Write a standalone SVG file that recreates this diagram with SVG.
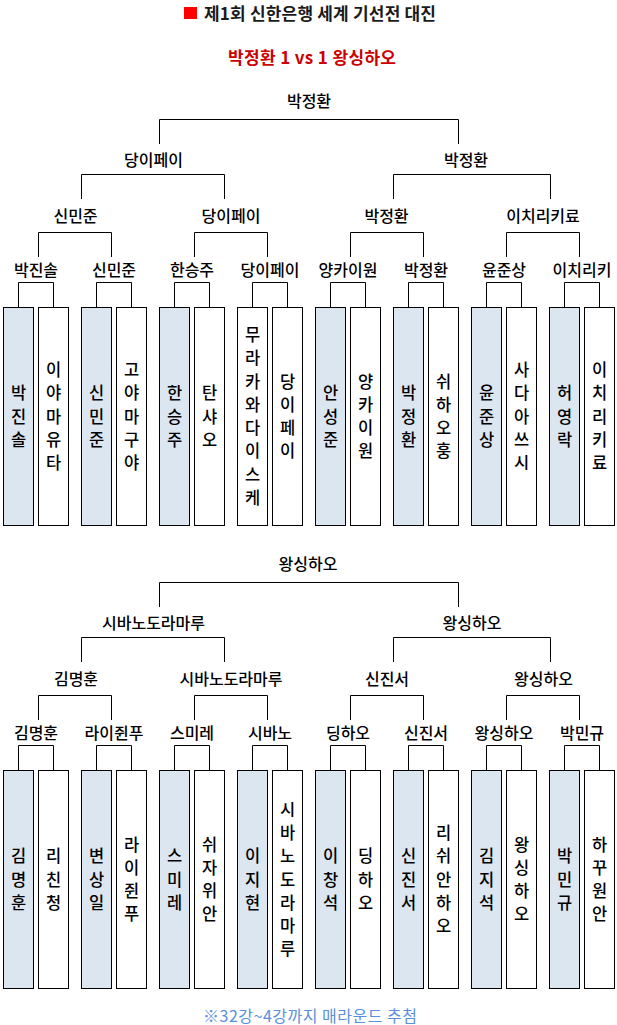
<svg xmlns="http://www.w3.org/2000/svg" width="617" height="1025" viewBox="0 0 617 1025">
<style>
text{font-family:'Noto Sans CJK KR','Noto Sans',sans-serif;}
.title{font-size:17px;font-weight:bold;fill:#1a1a1a;}
.score{font-size:17px;font-weight:bold;fill:#cc0000;text-anchor:middle;}
.lbl{font-size:16px;font-weight:500;fill:#000;text-anchor:middle;}
.nm{font-size:16.5px;font-weight:500;fill:#000;text-anchor:middle;}
.box{fill:#fff;stroke:#000;stroke-width:1;}
.win{fill:#dce6f1;}
.conn path{fill:none;stroke:#000;stroke-width:1;}
.note{font-size:16px;fill:#5a8fdc;text-anchor:middle;}
</style>
<rect width="617" height="1025" fill="#fff"/>
<g id="title">
<rect x="184" y="7" width="13" height="12" fill="#ff0000"/>
<text class="title" x="204" y="20" textLength="232">제1회 신한은행 세계 기선전 대진</text>
</g>
<g id="score"><text class="score" x="312" y="64" textLength="168">박정환 1 vs 1 왕싱하오</text></g>

<g class="conn" id="connectors">
<path d="M159.5 144V119.5H458.5V144"/>
<path d="M81.5 199V174.5H224.5V199"/>
<path d="M393.5 199V174.5H550.5V199"/>
<path d="M38.5 257V232.5H111.5V257"/>
<path d="M194.5 257V232.5H267.5V257"/>
<path d="M350.5 257V232.5H423.5V257"/>
<path d="M506.5 257V232.5H579.5V257"/>
<path d="M18.5 307.5V282.5H53.5V307.5"/>
<path d="M96.5 307.5V282.5H131.5V307.5"/>
<path d="M174.5 307.5V282.5H209.5V307.5"/>
<path d="M252.5 307.5V282.5H287.5V307.5"/>
<path d="M330.5 307.5V282.5H365.5V307.5"/>
<path d="M408.5 307.5V282.5H443.5V307.5"/>
<path d="M486.5 307.5V282.5H521.5V307.5"/>
<path d="M564.5 307.5V282.5H599.5V307.5"/>
<path d="M159.5 607V582.5H458.5V607"/>
<path d="M81.5 662V637.5H224.5V662"/>
<path d="M393.5 662V637.5H550.5V662"/>
<path d="M38.5 720V695.5H111.5V720"/>
<path d="M194.5 720V695.5H267.5V720"/>
<path d="M350.5 720V695.5H423.5V720"/>
<path d="M506.5 720V695.5H579.5V720"/>
<path d="M18.5 770.5V745.5H53.5V770.5"/>
<path d="M96.5 770.5V745.5H131.5V770.5"/>
<path d="M174.5 770.5V745.5H209.5V770.5"/>
<path d="M252.5 770.5V745.5H287.5V770.5"/>
<path d="M330.5 770.5V745.5H365.5V770.5"/>
<path d="M408.5 770.5V745.5H443.5V770.5"/>
<path d="M486.5 770.5V745.5H521.5V770.5"/>
<path d="M564.5 770.5V745.5H599.5V770.5"/>
</g>

<!-- upper bracket labels -->
<g id="u-final"><text class="lbl" x="309" y="107">박정환</text></g>
<g id="u-sf1"><text class="lbl" x="153.5" y="166">당이페이</text></g>
<g id="u-sf2"><text class="lbl" x="466" y="166">박정환</text></g>
<g id="u-qf1"><text class="lbl" x="75.5" y="222">신민준</text></g>
<g id="u-qf2"><text class="lbl" x="231" y="222">당이페이</text></g>
<g id="u-qf3"><text class="lbl" x="386.5" y="222">박정환</text></g>
<g id="u-qf4"><text class="lbl" x="543" y="222">이치리키료</text></g>
<g id="u-r1"><text class="lbl" x="36" y="276">박진솔</text></g>
<g id="u-r2"><text class="lbl" x="114" y="276">신민준</text></g>
<g id="u-r3"><text class="lbl" x="192" y="276">한승주</text></g>
<g id="u-r4"><text class="lbl" x="270" y="276">당이페이</text></g>
<g id="u-r5"><text class="lbl" x="348" y="276">양카이원</text></g>
<g id="u-r6"><text class="lbl" x="426" y="276">박정환</text></g>
<g id="u-r7"><text class="lbl" x="504" y="276">윤준상</text></g>
<g id="u-r8"><text class="lbl" x="582" y="276">이치리키</text></g>

<!-- upper player boxes -->
<g id="u-p1"><rect class="box win" x="3.5" y="307.5" width="30" height="218"/><text class="nm"><tspan x="18.5" y="399.2">박</tspan><tspan x="18.5" y="422.5">진</tspan><tspan x="18.5" y="445.8">솔</tspan></text></g>
<g id="u-p2"><rect class="box" x="38.5" y="307.5" width="30" height="218"/><text class="nm"><tspan x="53.5" y="375.9">이</tspan><tspan x="53.5" y="399.2">야</tspan><tspan x="53.5" y="422.5">마</tspan><tspan x="53.5" y="445.8">유</tspan><tspan x="53.5" y="469.1">타</tspan></text></g>
<g id="u-p3"><rect class="box win" x="81.5" y="307.5" width="30" height="218"/><text class="nm"><tspan x="96.5" y="399.2">신</tspan><tspan x="96.5" y="422.5">민</tspan><tspan x="96.5" y="445.8">준</tspan></text></g>
<g id="u-p4"><rect class="box" x="116.5" y="307.5" width="30" height="218"/><text class="nm"><tspan x="131.5" y="375.9">고</tspan><tspan x="131.5" y="399.2">야</tspan><tspan x="131.5" y="422.5">마</tspan><tspan x="131.5" y="445.8">구</tspan><tspan x="131.5" y="469.1">야</tspan></text></g>
<g id="u-p5"><rect class="box win" x="159.5" y="307.5" width="30" height="218"/><text class="nm"><tspan x="174.5" y="399.2">한</tspan><tspan x="174.5" y="422.5">승</tspan><tspan x="174.5" y="445.8">주</tspan></text></g>
<g id="u-p6"><rect class="box" x="194.5" y="307.5" width="30" height="218"/><text class="nm"><tspan x="209.5" y="399.2">탄</tspan><tspan x="209.5" y="422.5">샤</tspan><tspan x="209.5" y="445.8">오</tspan></text></g>
<g id="u-p7"><rect class="box" x="237.5" y="307.5" width="30" height="218"/><text class="nm"><tspan x="252.5" y="340.95">무</tspan><tspan x="252.5" y="364.25">라</tspan><tspan x="252.5" y="387.55">카</tspan><tspan x="252.5" y="410.85">와</tspan><tspan x="252.5" y="434.15">다</tspan><tspan x="252.5" y="457.45">이</tspan><tspan x="252.5" y="480.75">스</tspan><tspan x="252.5" y="504.05">케</tspan></text></g>
<g id="u-p8"><rect class="box" x="272.5" y="307.5" width="30" height="218"/><text class="nm"><tspan x="287.5" y="387.55">당</tspan><tspan x="287.5" y="410.85">이</tspan><tspan x="287.5" y="434.15">페</tspan><tspan x="287.5" y="457.45">이</tspan></text></g>
<g id="u-p9"><rect class="box win" x="315.5" y="307.5" width="30" height="218"/><text class="nm"><tspan x="330.5" y="399.2">안</tspan><tspan x="330.5" y="422.5">성</tspan><tspan x="330.5" y="445.8">준</tspan></text></g>
<g id="u-p10"><rect class="box" x="350.5" y="307.5" width="30" height="218"/><text class="nm"><tspan x="365.5" y="387.55">양</tspan><tspan x="365.5" y="410.85">카</tspan><tspan x="365.5" y="434.15">이</tspan><tspan x="365.5" y="457.45">원</tspan></text></g>
<g id="u-p11"><rect class="box win" x="393.5" y="307.5" width="30" height="218"/><text class="nm"><tspan x="408.5" y="399.2">박</tspan><tspan x="408.5" y="422.5">정</tspan><tspan x="408.5" y="445.8">환</tspan></text></g>
<g id="u-p12"><rect class="box" x="428.5" y="307.5" width="30" height="218"/><text class="nm"><tspan x="443.5" y="387.55">쉬</tspan><tspan x="443.5" y="410.85">하</tspan><tspan x="443.5" y="434.15">오</tspan><tspan x="443.5" y="457.45">훙</tspan></text></g>
<g id="u-p13"><rect class="box win" x="471.5" y="307.5" width="30" height="218"/><text class="nm"><tspan x="486.5" y="399.2">윤</tspan><tspan x="486.5" y="422.5">준</tspan><tspan x="486.5" y="445.8">상</tspan></text></g>
<g id="u-p14"><rect class="box" x="506.5" y="307.5" width="30" height="218"/><text class="nm"><tspan x="521.5" y="375.9">사</tspan><tspan x="521.5" y="399.2">다</tspan><tspan x="521.5" y="422.5">아</tspan><tspan x="521.5" y="445.8">쓰</tspan><tspan x="521.5" y="469.1">시</tspan></text></g>
<g id="u-p15"><rect class="box win" x="549.5" y="307.5" width="30" height="218"/><text class="nm"><tspan x="564.5" y="399.2">허</tspan><tspan x="564.5" y="422.5">영</tspan><tspan x="564.5" y="445.8">락</tspan></text></g>
<g id="u-p16"><rect class="box" x="584.5" y="307.5" width="30" height="218"/><text class="nm"><tspan x="599.5" y="375.9">이</tspan><tspan x="599.5" y="399.2">치</tspan><tspan x="599.5" y="422.5">리</tspan><tspan x="599.5" y="445.8">키</tspan><tspan x="599.5" y="469.1">료</tspan></text></g>

<!-- lower bracket labels -->
<g id="l-final"><text class="lbl" x="308" y="570">왕싱하오</text></g>
<g id="l-sf1"><text class="lbl" x="153.5" y="629">시바노도라마루</text></g>
<g id="l-sf2"><text class="lbl" x="472" y="629">왕싱하오</text></g>
<g id="l-qf1"><text class="lbl" x="76" y="685">김명훈</text></g>
<g id="l-qf2"><text class="lbl" x="231" y="685">시바노도라마루</text></g>
<g id="l-qf3"><text class="lbl" x="387" y="685">신진서</text></g>
<g id="l-qf4"><text class="lbl" x="543.5" y="685">왕싱하오</text></g>
<g id="l-r1"><text class="lbl" x="36" y="739">김명훈</text></g>
<g id="l-r2"><text class="lbl" x="114" y="739">라이쥔푸</text></g>
<g id="l-r3"><text class="lbl" x="192" y="739">스미레</text></g>
<g id="l-r4"><text class="lbl" x="270" y="739">시바노</text></g>
<g id="l-r5"><text class="lbl" x="348" y="739">딩하오</text></g>
<g id="l-r6"><text class="lbl" x="426" y="739">신진서</text></g>
<g id="l-r7"><text class="lbl" x="504" y="739">왕싱하오</text></g>
<g id="l-r8"><text class="lbl" x="582" y="739">박민규</text></g>

<!-- lower player boxes -->
<g id="l-p1"><rect class="box win" x="3.5" y="770.5" width="30" height="218"/><text class="nm"><tspan x="18.5" y="862.2">김</tspan><tspan x="18.5" y="885.5">명</tspan><tspan x="18.5" y="908.8">훈</tspan></text></g>
<g id="l-p2"><rect class="box" x="38.5" y="770.5" width="30" height="218"/><text class="nm"><tspan x="53.5" y="862.2">리</tspan><tspan x="53.5" y="885.5">친</tspan><tspan x="53.5" y="908.8">청</tspan></text></g>
<g id="l-p3"><rect class="box win" x="81.5" y="770.5" width="30" height="218"/><text class="nm"><tspan x="96.5" y="862.2">변</tspan><tspan x="96.5" y="885.5">상</tspan><tspan x="96.5" y="908.8">일</tspan></text></g>
<g id="l-p4"><rect class="box" x="116.5" y="770.5" width="30" height="218"/><text class="nm"><tspan x="131.5" y="850.55">라</tspan><tspan x="131.5" y="873.85">이</tspan><tspan x="131.5" y="897.15">쥔</tspan><tspan x="131.5" y="920.45">푸</tspan></text></g>
<g id="l-p5"><rect class="box win" x="159.5" y="770.5" width="30" height="218"/><text class="nm"><tspan x="174.5" y="862.2">스</tspan><tspan x="174.5" y="885.5">미</tspan><tspan x="174.5" y="908.8">레</tspan></text></g>
<g id="l-p6"><rect class="box" x="194.5" y="770.5" width="30" height="218"/><text class="nm"><tspan x="209.5" y="850.55">쉬</tspan><tspan x="209.5" y="873.85">자</tspan><tspan x="209.5" y="897.15">위</tspan><tspan x="209.5" y="920.45">안</tspan></text></g>
<g id="l-p7"><rect class="box win" x="237.5" y="770.5" width="30" height="218"/><text class="nm"><tspan x="252.5" y="862.2">이</tspan><tspan x="252.5" y="885.5">지</tspan><tspan x="252.5" y="908.8">현</tspan></text></g>
<g id="l-p8"><rect class="box" x="272.5" y="770.5" width="30" height="218"/><text class="nm"><tspan x="287.5" y="815.6">시</tspan><tspan x="287.5" y="838.9">바</tspan><tspan x="287.5" y="862.2">노</tspan><tspan x="287.5" y="885.5">도</tspan><tspan x="287.5" y="908.8">라</tspan><tspan x="287.5" y="932.1">마</tspan><tspan x="287.5" y="955.4">루</tspan></text></g>
<g id="l-p9"><rect class="box win" x="315.5" y="770.5" width="30" height="218"/><text class="nm"><tspan x="330.5" y="862.2">이</tspan><tspan x="330.5" y="885.5">창</tspan><tspan x="330.5" y="908.8">석</tspan></text></g>
<g id="l-p10"><rect class="box" x="350.5" y="770.5" width="30" height="218"/><text class="nm"><tspan x="365.5" y="862.2">딩</tspan><tspan x="365.5" y="885.5">하</tspan><tspan x="365.5" y="908.8">오</tspan></text></g>
<g id="l-p11"><rect class="box win" x="393.5" y="770.5" width="30" height="218"/><text class="nm"><tspan x="408.5" y="862.2">신</tspan><tspan x="408.5" y="885.5">진</tspan><tspan x="408.5" y="908.8">서</tspan></text></g>
<g id="l-p12"><rect class="box" x="428.5" y="770.5" width="30" height="218"/><text class="nm"><tspan x="443.5" y="838.9">리</tspan><tspan x="443.5" y="862.2">쉬</tspan><tspan x="443.5" y="885.5">안</tspan><tspan x="443.5" y="908.8">하</tspan><tspan x="443.5" y="932.1">오</tspan></text></g>
<g id="l-p13"><rect class="box win" x="471.5" y="770.5" width="30" height="218"/><text class="nm"><tspan x="486.5" y="862.2">김</tspan><tspan x="486.5" y="885.5">지</tspan><tspan x="486.5" y="908.8">석</tspan></text></g>
<g id="l-p14"><rect class="box" x="506.5" y="770.5" width="30" height="218"/><text class="nm"><tspan x="521.5" y="850.55">왕</tspan><tspan x="521.5" y="873.85">싱</tspan><tspan x="521.5" y="897.15">하</tspan><tspan x="521.5" y="920.45">오</tspan></text></g>
<g id="l-p15"><rect class="box win" x="549.5" y="770.5" width="30" height="218"/><text class="nm"><tspan x="564.5" y="862.2">박</tspan><tspan x="564.5" y="885.5">민</tspan><tspan x="564.5" y="908.8">규</tspan></text></g>
<g id="l-p16"><rect class="box" x="584.5" y="770.5" width="30" height="218"/><text class="nm"><tspan x="599.5" y="850.55">하</tspan><tspan x="599.5" y="873.85">꾸</tspan><tspan x="599.5" y="897.15">원</tspan><tspan x="599.5" y="920.45">안</tspan></text></g>

<g id="note"><text class="note" x="310" y="1022" textLength="214">※32강~4강까지 매라운드 추첨</text></g>
</svg>
